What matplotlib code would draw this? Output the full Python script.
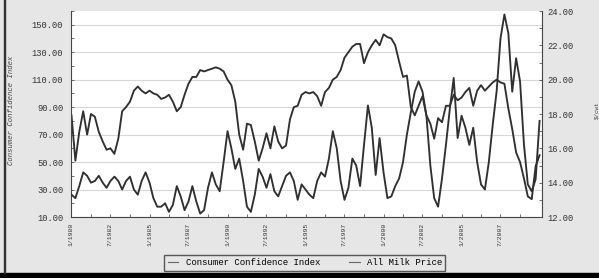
import pandas as pd
import matplotlib
matplotlib.use("Agg")
import matplotlib.pyplot as plt
from matplotlib.patches import Rectangle
from matplotlib.ticker import MultipleLocator, FixedLocator

# quarterly readings, 1/1980 .. 1/2010
dates = pd.date_range("1980-01-01", periods=121, freq="3MS")

cci = [84, 51, 72, 87, 70, 85, 83, 72, 65, 59,
       60, 56, 67, 87, 90, 94, 102, 105, 102, 100,
       102, 100, 99, 96, 97, 99, 94, 87, 90, 99,
       107, 112, 112, 117, 116, 117, 118, 119, 118, 116,
       110, 106, 94, 70, 59, 78, 77, 65, 51, 60,
       71, 60, 76, 65, 60, 62, 81, 90, 91, 99,
       101, 100, 101, 98, 91, 101, 104, 110, 112, 117,
       126, 130, 134, 136, 136, 122, 130, 135, 139, 135,
       143, 141, 140, 135, 123, 112, 113, 90, 84, 91,
       98, 84, 78, 67, 82, 79, 91, 91, 99, 95,
       97, 101, 104, 91, 102, 106, 102, 105, 108, 110,
       108, 107, 89, 74, 57, 50, 38, 25, 23, 47,
       55]

milk = [13.3, 13.1, 13.8, 14.6, 14.4, 14.0, 14.1, 14.4, 14.0, 13.7,
        14.1, 14.35, 14.1, 13.6, 14.1, 14.35, 13.6, 13.3, 14.1, 14.6,
        14.0, 13.1, 12.6, 12.6, 12.8, 12.3, 12.7, 13.8, 13.2, 12.4,
        12.9, 13.8, 12.9, 12.2, 12.4, 13.7, 14.6, 13.9, 13.5, 15.2,
        17.0, 16.0, 14.8, 15.4, 14.1, 12.6, 12.3, 13.3, 14.8, 14.35,
        13.7, 14.5, 13.5, 13.2, 13.8, 14.4, 14.6, 14.1, 13.0, 13.9,
        13.6, 13.3, 13.1, 14.1, 14.6, 14.35, 15.4, 17.0, 16.0, 14.1,
        13.0, 13.7, 15.4, 15.0, 13.8, 16.2, 18.5, 17.2, 14.45, 16.6,
        14.6, 13.1, 13.2, 13.8, 14.25, 15.2, 16.8, 18.1, 19.3, 19.9,
        19.3, 17.9, 15.0, 13.1, 12.6, 14.25, 16.2, 18.3, 20.1, 16.6,
        17.9, 17.2, 16.2, 17.2, 15.2, 13.9, 13.6, 15.2, 17.4, 19.3,
        22.4, 23.8, 22.7, 19.3, 21.25, 19.9, 16.2, 13.9, 13.5, 14.2,
        17.6]

xtick_dates = pd.date_range("1980-01-01", periods=12, freq="30MS")
xtick_labels = ["1/1980", "7/1982", "1/1985", "7/1987", "1/1990", "7/1992",
                "1/1995", "7/1997", "1/2000", "7/2002", "1/2005", "7/2007"]
xminor_dates = pd.date_range("1981-04-01", periods=12, freq="30MS")
left_ticks = [10, 30, 50, 70, 90, 110, 130, 150]
right_ticks = [12, 14, 16, 18, 20, 22, 24]

bg = "#e6e6e6"
ink = "#303030"
mono = "Liberation Mono"

fig = plt.figure(figsize=(5.99, 2.78), dpi=100, facecolor=bg)
ax = fig.add_axes([0.1185, 0.2194, 0.7865, 0.741])
ax.set_facecolor("white")
ax2 = ax.twinx()

l1, = ax.plot(dates, cci, color=ink, lw=1.35, label="Consumer Confidence Index")
l2, = ax2.plot(dates, milk, color=ink, lw=1.35, label="All Milk Price")

ax.set_xlim(pd.Timestamp("1979-12-20"), pd.Timestamp("2010-03-01"))
ax.set_ylim(10, 160)
ax2.set_ylim(12, 24)

ax.set_yticks(left_ticks)
ax.set_yticklabels([f"{v:.2f}" for v in left_ticks], family=mono, fontsize=6.3, color="#333")
ax.yaxis.set_minor_locator(MultipleLocator(10))
ax2.set_yticks(right_ticks)
ax2.set_yticklabels([f"{v:.2f}" for v in right_ticks], family=mono, fontsize=6.3, color="#333")
ax2.yaxis.set_minor_locator(MultipleLocator(1))

ax.set_xticks(xtick_dates)
ax.set_xticklabels(xtick_labels, rotation=90, family=mono, fontsize=4.6, color="#333")
ax.xaxis.set_minor_locator(FixedLocator(matplotlib.dates.date2num(xminor_dates)))

ax.grid(axis="y", which="major", color="#d8d8d8", lw=0.8)
ax.set_axisbelow(True)

for a in (ax, ax2):
    a.spines["top"].set_visible(False)
    a.tick_params(which="both", direction="in", length=2.5, width=0.6, color="#555")
ax.tick_params(axis="y", pad=5.5)
ax.tick_params(axis="x", pad=4)
ax2.tick_params(axis="y", pad=3.5)
ax.spines["right"].set_visible(False)
ax2.spines["left"].set_visible(False)
ax2.spines["bottom"].set_visible(False)
for s in ("left", "bottom"):
    ax.spines[s].set_color("#444")
ax2.spines["right"].set_color("#444")

fig.text(12 / 599, 1 - 110 / 278, "Consumer Confidence Index", rotation=90,
         ha="center", va="center", family=mono, fontsize=5.2, style="italic", color="#444")
fig.text(1.0, 1 - 110 / 278, "$/cwt", rotation=90,
         ha="right", va="center", family=mono, fontsize=4.2, color="#444")

leg = fig.legend(handles=[l1, l2], loc="center", bbox_to_anchor=(0.509, 0.054), ncol=2,
                 frameon=True, fancybox=False, edgecolor="#333", facecolor=bg,
                 prop={"family": mono, "size": 6.5}, handlelength=1.2,
                 columnspacing=3.2, borderpad=0.35, handletextpad=0.8)
leg.get_frame().set_linewidth(1.0)
for h in leg.legend_handles:
    h.set_color("#666")
    h.set_linewidth(0.8)

fig.add_artist(Rectangle((0, 0), 1, 5 / 278, transform=fig.transFigure, color="black"))
fig.add_artist(Rectangle((3.5 / 599, 5 / 278), 1.5 / 599, 1, transform=fig.transFigure,
                         color="#333"))

fig.savefig("out.png", dpi=100, facecolor=bg)
